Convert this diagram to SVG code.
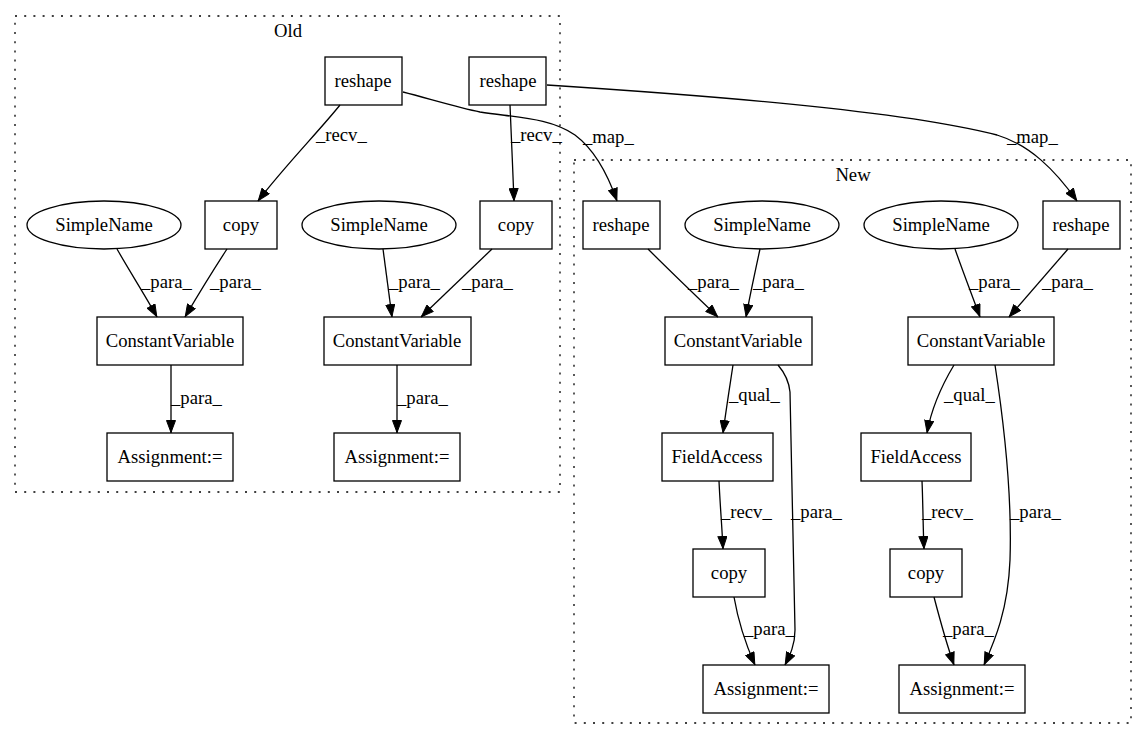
<svg xmlns="http://www.w3.org/2000/svg" width="1147" height="740" viewBox="0 0 1147 740">
<style>
text{font-family:"Liberation Serif","Times New Roman",serif;font-size:18.67px;fill:#000;text-anchor:middle}
.n rect,.n ellipse{fill:none;stroke:#000;stroke-width:1.3}
.cl{fill:none;stroke:#000;stroke-width:1.3;stroke-dasharray:2,7.2}
.e path{fill:none;stroke:#000;stroke-width:1.3;marker-end:url(#ah)}
.e text{text-anchor:start}
</style>
<defs>
<marker id="ah" viewBox="0 0 13 10" refX="13" refY="5" markerWidth="13" markerHeight="10" markerUnits="userSpaceOnUse" orient="auto">
<path d="M0.5,0.5 L12.5,5 L0.5,9.5 z" fill="#000" stroke="#000" stroke-width="1"/>
</marker>
</defs>
<rect width="1147" height="740" fill="#fff"/>
<g id="cluster_old">
<rect class="cl" x="15" y="16" width="545" height="476"/>
<text x="288" y="37">Old</text>
</g>
<g id="cluster_new">
<rect class="cl" x="574" y="160" width="557" height="563"/>
<text x="853" y="181">New</text>
</g>
<g id="o_reshape1" class="n"><rect x="325" y="57" width="77" height="48"/><text x="363" y="87">reshape</text></g>
<g id="o_reshape2" class="n"><rect x="469" y="57" width="77" height="48"/><text x="508" y="87">reshape</text></g>
<g id="o_sn1" class="n"><ellipse cx="104" cy="225" rx="77" ry="24"/><text x="104" y="231">SimpleName</text></g>
<g id="o_copy1" class="n"><rect x="205" y="201" width="72" height="48"/><text x="241" y="231">copy</text></g>
<g id="o_sn2" class="n"><ellipse cx="379" cy="225" rx="77" ry="24"/><text x="379" y="231">SimpleName</text></g>
<g id="o_copy2" class="n"><rect x="480" y="201" width="72" height="48"/><text x="516" y="231">copy</text></g>
<g id="o_cv1" class="n"><rect x="97" y="317" width="146" height="48"/><text x="170" y="347">ConstantVariable</text></g>
<g id="o_cv2" class="n"><rect x="324" y="317" width="147" height="48"/><text x="397" y="347">ConstantVariable</text></g>
<g id="o_as1" class="n"><rect x="107" y="433" width="126" height="48"/><text x="170" y="463">Assignment:=</text></g>
<g id="o_as2" class="n"><rect x="334" y="433" width="126" height="48"/><text x="397" y="463">Assignment:=</text></g>
<g id="n_reshape3" class="n"><rect x="583" y="201" width="77" height="48"/><text x="621" y="231">reshape</text></g>
<g id="n_sn3" class="n"><ellipse cx="762" cy="225" rx="77" ry="24"/><text x="762" y="231">SimpleName</text></g>
<g id="n_sn4" class="n"><ellipse cx="941" cy="225" rx="77" ry="24"/><text x="941" y="231">SimpleName</text></g>
<g id="n_reshape4" class="n"><rect x="1043" y="201" width="77" height="48"/><text x="1081" y="231">reshape</text></g>
<g id="n_cv3" class="n"><rect x="665" y="317" width="147" height="48"/><text x="738" y="347">ConstantVariable</text></g>
<g id="n_cv4" class="n"><rect x="908" y="317" width="146" height="48"/><text x="981" y="347">ConstantVariable</text></g>
<g id="n_fa1" class="n"><rect x="662" y="433" width="111" height="48"/><text x="717" y="463">FieldAccess</text></g>
<g id="n_fa2" class="n"><rect x="861" y="433" width="110" height="48"/><text x="916" y="463">FieldAccess</text></g>
<g id="n_copy3" class="n"><rect x="693" y="549" width="72" height="48"/><text x="729" y="579">copy</text></g>
<g id="n_copy4" class="n"><rect x="890" y="549" width="72" height="48"/><text x="926" y="579">copy</text></g>
<g id="n_as3" class="n"><rect x="703" y="665" width="126" height="48"/><text x="766" y="695">Assignment:=</text></g>
<g id="n_as4" class="n"><rect x="899" y="665" width="126" height="48"/><text x="962" y="695">Assignment:=</text></g>
<g id="edges" class="e">
<path d="M340,105 C320,130 283,168 258,201"/><text x="316" y="141">_recv_</text>
<path d="M510,105 C511,135 513,170 514,201"/><text x="511" y="141">_recv_</text>
<path d="M403,92 C430,99 460,108 480,112 C520,118 550,118 575,135 C595,150 608,175 617,201"/><text x="583" y="143">_map_</text>
<path d="M547,85 C700,95 900,110 997,135 C1030,145 1055,170 1077,201"/><text x="1007" y="143">_map_</text>
<path d="M117,249 C130,272 145,295 157,317"/><text x="141" y="288">_para_</text>
<path d="M227,249 C212,272 198,295 185,317"/><text x="210" y="288">_para_</text>
<path d="M383,249 C386,272 389,295 392,317"/><text x="389" y="288">_para_</text>
<path d="M492,249 C468,272 444,295 421,317"/><text x="462" y="288">_para_</text>
<path d="M171,365 L171,433"/><text x="171" y="404">_para_</text>
<path d="M397,365 L397,433"/><text x="397" y="404">_para_</text>
<path d="M648,249 C671,272 695,295 718,317"/><text x="688" y="288">_para_</text>
<path d="M760,249 C755,272 750,295 746,317"/><text x="753" y="288">_para_</text>
<path d="M955,249 C963,272 972,295 980,317"/><text x="969" y="288">_para_</text>
<path d="M1068,249 C1048,272 1028,295 1009,317"/><text x="1042" y="288">_para_</text>
<path d="M733,365 C730,385 726,410 723,433"/><text x="729" y="401">_qual_</text>
<path d="M778,365 C784,372 789,382 790,392 L795,630 C795,645 790,655 785,665"/><text x="791" y="518">_para_</text>
<path d="M954,365 C945,380 932,405 927,433"/><text x="944" y="401">_qual_</text>
<path d="M995,365 C1005,430 1012,500 1010,560 C1008,610 995,640 984,665"/><text x="1010" y="518">_para_</text>
<path d="M719,481 C720,504 722,527 723,549"/><text x="721" y="518">_recv_</text>
<path d="M922,481 C923,504 923,527 924,549"/><text x="922" y="518">_recv_</text>
<path d="M734,597 C738,620 746,645 755,665"/><text x="744" y="635">_para_</text>
<path d="M934,597 C940,620 947,645 954,665"/><text x="943" y="635">_para_</text>
</g>
</svg>
